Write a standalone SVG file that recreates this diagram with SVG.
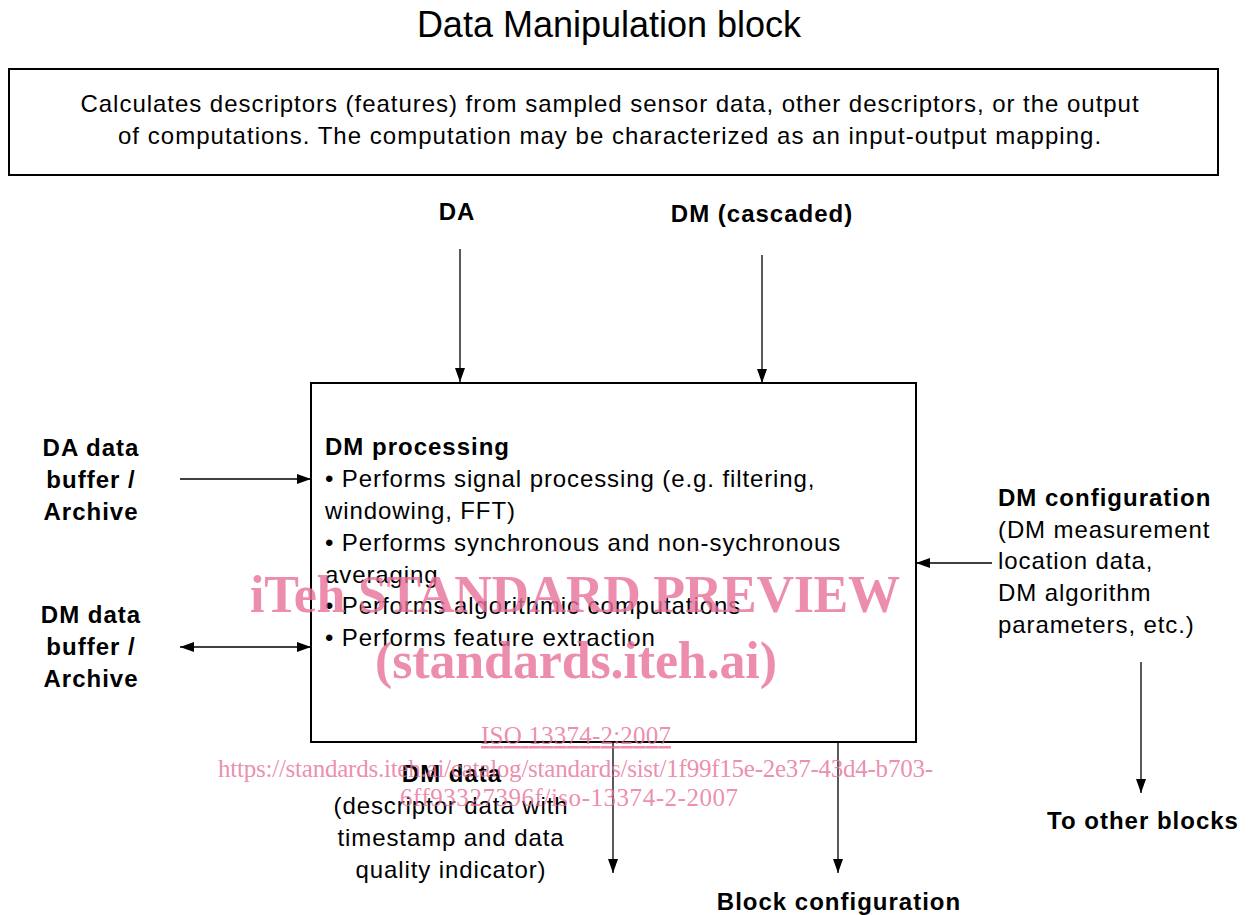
<svg xmlns="http://www.w3.org/2000/svg" width="1253" height="915" viewBox="0 0 1253 915">
<defs>
<marker id="ah" markerUnits="userSpaceOnUse" markerWidth="14" markerHeight="10" refX="14" refY="5" orient="auto-start-reverse" viewBox="0 0 14 10">
<path d="M0,0 L14,5 L0,10 Z" fill="#000"/>
</marker>
<style>
text{font-family:"Liberation Sans",Arial,sans-serif;fill:#000}
.t{font-size:24px;letter-spacing:0.9px}
.b{font-size:24px;font-weight:bold;letter-spacing:1px}
.c{text-anchor:middle}
.box{fill:#fff;stroke:#000;stroke-width:2}
.ln{stroke:#000;stroke-width:1.3;fill:none}
.wm{font-family:"Liberation Serif","Times New Roman",serif;fill:#e8709a;fill-opacity:0.8}
</style>
</defs>
<rect width="1253" height="915" fill="#fff"/>
<text x="609" y="37" class="c" style="font-size:36px">Data Manipulation block</text>
<g id="desc">
<rect class="box" x="9" y="69" width="1209" height="106"/>
<text x="610" y="112" class="t c" textLength="1059">Calculates descriptors (features) from sampled sensor data, other descriptors, or the output</text>
<text x="610" y="144" class="t c" textLength="984">of computations. The computation may be characterized as an input-output mapping.</text>
</g>
<g id="main">
<rect class="box" x="311" y="383" width="605" height="359"/>
<text x="325" y="455" class="b">DM processing</text>
<text x="325" y="487" class="t">• Performs signal processing (e.g. filtering,</text>
<text x="325" y="519" class="t">windowing, FFT)</text>
<text x="325" y="551" class="t">• Performs synchronous and non-sychronous</text>
<text x="325" y="583" class="t">averaging</text>
<text x="325" y="614" class="t">• Performs algorithmic computations</text>
<text x="325" y="646" class="t">• Performs feature extraction</text>
</g>
<g id="da"><text x="457" y="220" class="b c">DA</text></g>
<g id="dmcasc"><text x="762" y="222" class="b c">DM (cascaded)</text></g>
<g id="dabuf">
<text x="91" y="456" class="b c">DA data</text>
<text x="91" y="488" class="b c">buffer /</text>
<text x="91" y="520" class="b c">Archive</text>
</g>
<g id="dmbuf">
<text x="91" y="623" class="b c">DM data</text>
<text x="91" y="655" class="b c">buffer /</text>
<text x="91" y="687" class="b c">Archive</text>
</g>
<g id="dmconf">
<text x="998" y="506" class="b">DM configuration</text>
<text x="998" y="538" class="t">(DM measurement</text>
<text x="998" y="569" class="t">location data,</text>
<text x="998" y="601" class="t">DM algorithm</text>
<text x="998" y="633" class="t">parameters, etc.)</text>
</g>
<g id="other"><text x="1143" y="829" class="b c">To other blocks</text></g>
<g id="dmdata">
<text x="452" y="782" class="b c">DM data</text>
<text x="451" y="814" class="t c">(descriptor data with</text>
<text x="451" y="846" class="t c">timestamp and data</text>
<text x="451" y="878" class="t c">quality indicator)</text>
</g>
<g id="blockconf"><text x="839" y="910" class="b c">Block configuration</text></g>
<g id="connectors">
<line class="ln" x1="460" y1="249" x2="460" y2="382" marker-end="url(#ah)"/>
<line class="ln" x1="762" y1="255" x2="762" y2="383" marker-end="url(#ah)"/>
<line class="ln" x1="180" y1="479" x2="311" y2="479" marker-end="url(#ah)"/>
<line class="ln" x1="180" y1="647" x2="311" y2="647" marker-start="url(#ah)" marker-end="url(#ah)"/>
<line class="ln" x1="992" y1="563" x2="916" y2="563" marker-end="url(#ah)"/>
<line class="ln" x1="1141" y1="662" x2="1141" y2="793" marker-end="url(#ah)"/>
<line class="ln" x1="613" y1="742" x2="613" y2="873" marker-end="url(#ah)"/>
<line class="ln" x1="838" y1="742" x2="838" y2="873" marker-end="url(#ah)"/>
</g>
<g id="watermark">
<text x="250" y="612" class="wm" textLength="650" style="font-size:52px;font-weight:bold">iTeh STANDARD PREVIEW</text>
<text x="375" y="678" class="wm" textLength="402" style="font-size:52px;font-weight:bold">(standards.iteh.ai)</text>
<text x="481" y="744" class="wm" textLength="190" style="font-size:25px;text-decoration:underline">ISO 13374-2:2007</text>
<text x="218" y="777" class="wm" textLength="715" style="font-size:25px">https://standards.iteh.ai/catalog/standards/sist/1f99f15e-2e37-43d4-b703-</text>
<text x="400" y="806" class="wm" textLength="338" style="font-size:25px">6ff93327396f/iso-13374-2-2007</text>
</g>
</svg>
